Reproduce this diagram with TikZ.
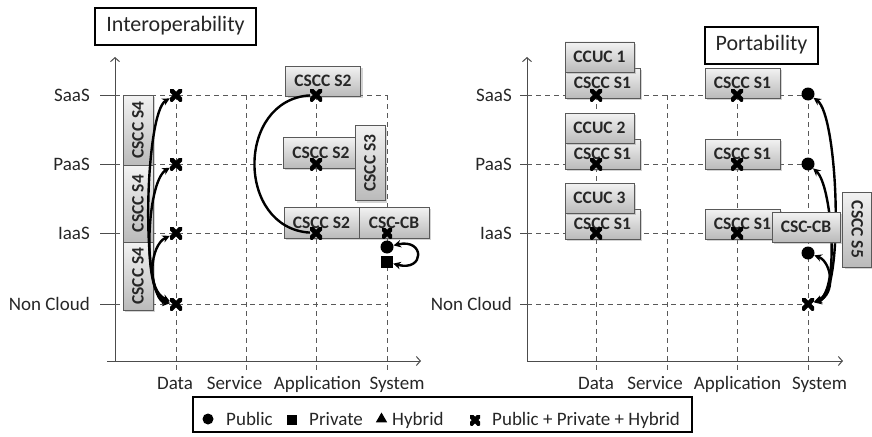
\documentclass[tikz,border=0pt]{standalone}
\usepackage{fontspec}
\setmainfont{Carlito}
\usetikzlibrary{arrows.meta,shadows,shapes.geometric}
\tikzset{
  boxnode/.style={draw=black!65, line width=0.8pt, top color=black!5, bottom color=black!27,
    drop shadow={shadow xshift=2pt, shadow yshift=-2pt, opacity=0.35},
    font=\fontsize{17.5}{20}\selectfont\bfseries, text=black!85,
    text height=11pt, text depth=0pt, inner sep=0pt},
  titlebox/.style={draw=black, line width=1.3pt, fill=white, font=\fontsize{22}{26}\selectfont,
    text=black!85, text height=14pt, text depth=4pt, inner sep=0pt},
  gridline/.style={draw=black!65, line width=0.9pt, dash pattern=on 5pt off 4pt},
  axisline/.style={draw=black!70, line width=1pt, -{Straight Barb[length=4pt,width=9pt]}},
  tickline/.style={draw=black!70, line width=1pt},
  lvl/.style={font=\fontsize{19}{22}\selectfont, anchor=base east, text=black!85, inner sep=0pt},
  cat/.style={font=\fontsize{19}{22}\selectfont, anchor=base, text=black!85, inner sep=0pt},
  xm/.style={minimum size=12pt, inner sep=0pt, path picture={
    \draw[line width=4.6pt, black] (path picture bounding box.north west) -- (path picture bounding box.south east)
      (path picture bounding box.north east) -- (path picture bounding box.south west);}},
  xmsmall/.style={xm, minimum size=10pt},
  pub/.style={circle, fill=black, minimum size=13pt, inner sep=0pt},
  priv/.style={rectangle, fill=black, minimum size=12pt, inner sep=0pt},
  hyb/.style={regular polygon, regular polygon sides=3, fill=black, minimum size=14pt, inner sep=0pt},
  arr/.style={draw=black, line width=2.4pt, {Stealth[length=7.5pt,width=7.5pt]}-{Stealth[length=7.5pt,width=7.5pt]}},
  arcline/.style={draw=black, line width=2.4pt},
  legtext/.style={font=\fontsize{19}{22}\selectfont, anchor=base west, text=black!85, inner sep=0pt},
}
\begin{document}
\begin{tikzpicture}[x=1pt,y=-1pt]
\useasboundingbox (0,0) rectangle (872,436);

% ================= LEFT PANEL: axes and grid =================
\coordinate (LyB) at (115,361); \coordinate (LyT) at (115,57);
\coordinate (LxL) at (107,361); \coordinate (LxR) at (421,361);
\draw[axisline] (LyB) -- (LyT);
\draw[axisline] (LxL) -- (LxR);
\foreach \yy in {95,164,233,304}{
  \draw[tickline] (100,\yy) -- (115,\yy);
  \draw[gridline] (115,\yy) -- (387,\yy);
}
\foreach \xx in {176,246,316,387}{
  \draw[gridline] (\xx,95) -- (\xx,373);
}
\node[lvl] (LlS) at (90,101) {SaaS};
\node[lvl] (LlP) at (90,170) {PaaS};
\node[lvl] (LlI) at (90,239) {IaaS};
\node[lvl] (LlN) at (90,310) {Non Cloud};
\node[cat] (LcD) at (175,389) {Data};
\node[cat] (LcS) at (234.5,389) {Service};
\node[cat] (LcA) at (317.5,389) {Application};
\node[cat] (LcY) at (397,389) {System};
\node[titlebox, minimum width=161pt, minimum height=37pt] (Ltitle) at (175.5,26.5) {Interoperability};

% left boxes
\node[boxnode, rotate=90, minimum width=70pt, minimum height=30pt] (S4a) at (138,130) {CSCC S4};
\node[boxnode, rotate=90, minimum width=77pt, minimum height=30pt] (S4b) at (138,203.5) {CSCC S4};
\node[boxnode, rotate=90, minimum width=68pt, minimum height=30pt] (S4c) at (138,276) {CSCC S4};
\node[boxnode, minimum width=75pt, minimum height=30pt] (S2a) at (323,81) {CSCC S2};
\node[boxnode, minimum width=76pt, minimum height=31pt] (S2b) at (321,152.5) {CSCC S2};
\node[boxnode, rotate=90, minimum width=75pt, minimum height=30pt] (S3) at (370,163) {CSCC S3};
\node[boxnode, minimum width=75pt, minimum height=31pt] (S2c) at (321.5,222.5) {CSCC S2};
\node[boxnode, minimum width=70pt, minimum height=31pt] (LCB) at (394,222.5) {CSC-CB};

% left markers
\node[xm] (LdS) at (176,95) {};
\node[xm] (LdP) at (176,164) {};
\node[xm] (LdI) at (176,233) {};
\node[xm] (LdN) at (176,304) {};
\node[xm] (LaS) at (316,95) {};
\node[xm] (LaP) at (316,164) {};
\node[xm] (LaI) at (316,233) {};
\node[xm, minimum size=10pt] (LsI) at (387,233) {};
\node[pub] (LsC) at (387,247) {};
\node[priv] (LsQ) at (387,262) {};

% left connectors
\draw[arr] (LdN) .. controls (140,300) and (145,112) .. (LdS);
\draw[arr] (LdN) .. controls (142,295) and (146,182) .. (LdP);
\draw[arr] (LdN) .. controls (146,290) and (150,245) .. (LdI);
\draw[arcline] (LaI) .. controls (236,228) and (236,100) .. (LaS);
\draw[arr] (LsC) .. controls (425,238) and (425,272) .. (LsQ);

% ================= RIGHT PANEL: axes and grid =================
\coordinate (RyB) at (527,361); \coordinate (RyT) at (527,57);
\coordinate (RxL) at (527,361); \coordinate (RxR) at (843,361);
\draw[axisline] (RyB) -- (RyT);
\draw[axisline] (RxL) -- (RxR);
\foreach \yy in {95,164,233,304}{
  \draw[tickline] (520,\yy) -- (527,\yy);
  \draw[gridline] (527,\yy) -- (808,\yy);
}
\foreach \xx in {596,667,737,808}{
  \draw[gridline] (\xx,95) -- (\xx,373);
}
\node[lvl] (RlS) at (512,101) {SaaS};
\node[lvl] (RlP) at (512,170) {PaaS};
\node[lvl] (RlI) at (512,239) {IaaS};
\node[lvl] (RlN) at (512,310) {Non Cloud};
\node[cat] (RcD) at (596,389) {Data};
\node[cat] (RcS) at (655,389) {Service};
\node[cat] (RcA) at (737.5,389) {Application};
\node[cat] (RcY) at (819.5,389) {System};
\node[titlebox, minimum width=113pt, minimum height=37pt] (Rtitle) at (761.5,45.5) {Portability};

% right boxes
\node[boxnode, minimum width=75pt, minimum height=30pt] (S1dS) at (602.5,83) {CSCC S1};
\node[boxnode, minimum width=69pt, minimum height=30pt] (U1) at (599.5,57) {CCUC 1};
\node[boxnode, minimum width=75pt, minimum height=30pt] (S1dP) at (602.5,154) {CSCC S1};
\node[boxnode, minimum width=69pt, minimum height=30pt] (U2) at (599.5,128) {CCUC 2};
\node[boxnode, minimum width=75pt, minimum height=30pt] (S1dI) at (602.5,224) {CSCC S1};
\node[boxnode, minimum width=69pt, minimum height=30pt] (U3) at (599.5,198) {CCUC 3};
\node[boxnode, minimum width=75pt, minimum height=30pt] (S1aS) at (742.5,83) {CSCC S1};
\node[boxnode, minimum width=75pt, minimum height=30pt] (S1aP) at (742.5,154) {CSCC S1};
\node[boxnode, minimum width=75pt, minimum height=30pt] (S1aI) at (742.5,224) {CSCC S1};
\node[boxnode, rotate=-90, minimum width=75pt, minimum height=29pt] (S5) at (857,229.5) {CSCC S5};

% right markers
\node[xm] (RdS) at (596,95) {};
\node[xm] (RdP) at (596,164) {};
\node[xm] (RdI) at (596,233) {};
\node[xm] (RaS) at (737,95) {};
\node[xm] (RaP) at (737,164) {};
\node[xm] (RaI) at (737,233) {};
\node[pub] (RsS) at (808,94) {};
\node[pub] (RsP) at (808,164) {};
\node[pub] (RsB) at (808,253) {};
\node[xm] (RsN) at (808,304) {};

% right connectors
\draw[arr] (RsN) .. controls (845,295) and (838,115) .. (RsS);
\draw[arr] (RsN) .. controls (840,292) and (832,185) .. (RsP);
\draw[arr] (RsN) .. controls (836,295) and (832,262) .. (RsB);

\node[boxnode, minimum width=68pt, minimum height=30pt] (RCB) at (806,227) {CSC-CB};

% ================= LEGEND =================
\node[draw=black, line width=1.2pt, minimum width=499pt, minimum height=35pt, inner sep=0pt] (legend) at (442.5,414.5) {};
\node[pub, minimum size=11pt] (gPub) at (208,419) {};
\node[legtext] (tPub) at (226,425) {Public};
\node[priv, minimum size=10pt] (gPriv) at (292,420) {};
\node[legtext] (tPriv) at (309,425) {Private};
\node[hyb, minimum size=13pt] (gHyb) at (381.5,419) {};
\node[legtext] (tHyb) at (392,425) {Hybrid};
\node[xmsmall] (gAll) at (475,420) {};
\node[legtext] (tAll) at (492,425) {Public + Private + Hybrid};
\end{tikzpicture}
\end{document}
